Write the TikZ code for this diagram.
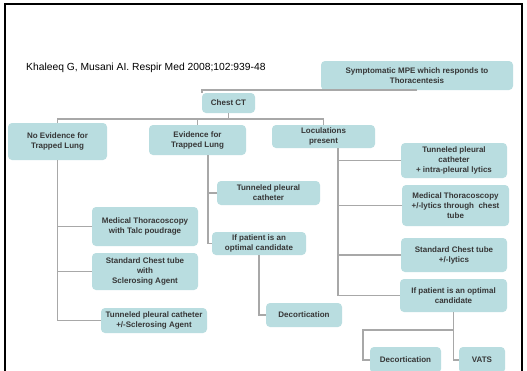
\documentclass[tikz,border=0pt]{standalone}
\usepackage{fontspec}
\setmainfont{Liberation Sans}
\definecolor{boxfill}{HTML}{B9DDE0}
\definecolor{conncol}{HTML}{A8A8A8}
\definecolor{boxtext}{HTML}{363636}
\tikzset{
  bx/.style={fill=boxfill, rounded corners=4pt, inner sep=0pt, align=center,
    text=boxtext, font=\bfseries\fontsize{8}{10}\selectfont},
  conn/.style={draw=conncol, line width=1.5pt},
  frameline/.style={draw=black, line width=2pt}
}
\begin{document}
\begin{tikzpicture}[x=1pt,y=1pt]
\useasboundingbox (0,0) rectangle (527,-370);
\fill[white] (0,0) rectangle (527,-370);
% frame
\draw[frameline] (5,-375) -- (5,-4) -- (522,-4) -- (522,-375);
% citation
\node[anchor=base west, inner sep=0pt, font=\fontsize{10.3}{12}\selectfont] (cite) at (26,-70.5) {Khaleeq G, Musani AI. Respir Med 2008;102:939-48};
% boxes
\node[bx, minimum width=192pt, minimum height=29pt] (top) at (417,-75.5) {Symptomatic MPE which responds to\\Thoracentesis};
\node[bx, minimum width=53pt, minimum height=20pt] (chest) at (228.5,-103) {Chest CT};
\node[bx, minimum width=99pt, minimum height=37pt] (noev) at (57.5,-141.5) {No Evidence for\\Trapped Lung};
\node[bx, minimum width=97pt, minimum height=30pt] (evid) at (197.5,-140) {Evidence for\\Trapped Lung};
\node[bx, minimum width=103pt, minimum height=23pt] (locul) at (323.5,-136.5) {Loculations\\present};
\node[bx, minimum width=106pt, minimum height=35pt] (tpcr) at (454,-160.5) {Tunneled pleural\\catheter\\+ intra-pleural lytics};
\node[bx, minimum width=103pt, minimum height=24pt] (tpcm) at (268.5,-193) {Tunneled pleural\\catheter};
\node[bx, minimum width=106pt, minimum height=39pt] (mtl) at (145,-226.5) {Medical Thoracoscopy\\with Talc poudrage};
\node[bx, minimum width=106pt, minimum height=37pt] (sctl) at (145,-271.5) {Standard Chest tube\\with\\Sclerosing Agent};
\node[bx, minimum width=106pt, minimum height=25pt] (tpcl) at (154,-320.5) {Tunneled pleural catheter\\+/-Sclerosing Agent};
\node[bx, minimum width=94pt, minimum height=23pt] (ifpm) at (259,-243.5) {If patient is an\\optimal candidate};
\node[bx, minimum width=76pt, minimum height=24pt] (decm) at (304,-315) {Decortication};
\node[bx, minimum width=107pt, minimum height=41pt] (mtr) at (455.5,-205.5) {Medical Thoracoscopy\\+/-lytics through\ \ chest\\tube};
\node[bx, minimum width=106pt, minimum height=34pt] (sctr) at (454,-255) {Standard Chest tube\\+/-lytics};
\node[bx, minimum width=107pt, minimum height=33pt] (ifpr) at (453.5,-295.5) {If patient is an optimal\\candidate};
\node[bx, minimum width=71pt, minimum height=26pt] (decr) at (405.5,-360) {Decortication};
\node[bx, minimum width=46pt, minimum height=26pt] (vats) at (482,-360) {VATS};
% junction coordinates
\coordinate (bus) at (0,-119);
\coordinate (etr) at (208,-155);
\coordinate (ltr) at (338,-148);
\coordinate (rbus) at (363,-330);
% connectors
\draw[conn] (top.south) -| (chest.north west);
\draw[conn] (chest.south) -- (chest.south |- bus);
\draw[conn] (noev.north) |- (bus -| evid.north) -- (evid.north);
\draw[conn] (bus -| evid.north) -| (locul.north);
% left trunk
\draw[conn] (noev.south) |- (tpcl.west);
\draw[conn] (noev.south |- mtl.west) -- (mtl.west);
\draw[conn] (noev.south |- sctl.west) -- (sctl.west);
% evidence trunk
\draw[conn] (etr) |- (ifpm.west);
\draw[conn] (etr |- tpcm.west) -- (tpcm.west);
\draw[conn] (ifpm.south) |- (decm.west);
% loculations trunk
\draw[conn] (ltr) |- (ifpr.west);
\draw[conn] (ltr |- tpcr.west) -- (tpcr.west);
\draw[conn] (ltr |- mtr.west) -- (mtr.west);
\draw[conn] (ltr |- sctr.west) -- (sctr.west);
% right bottom
\draw[conn] (ifpr.south) |- (vats.west);
\draw[conn] (ifpr.south |- rbus) -- (rbus) |- (decr.west);
\end{tikzpicture}
\end{document}
